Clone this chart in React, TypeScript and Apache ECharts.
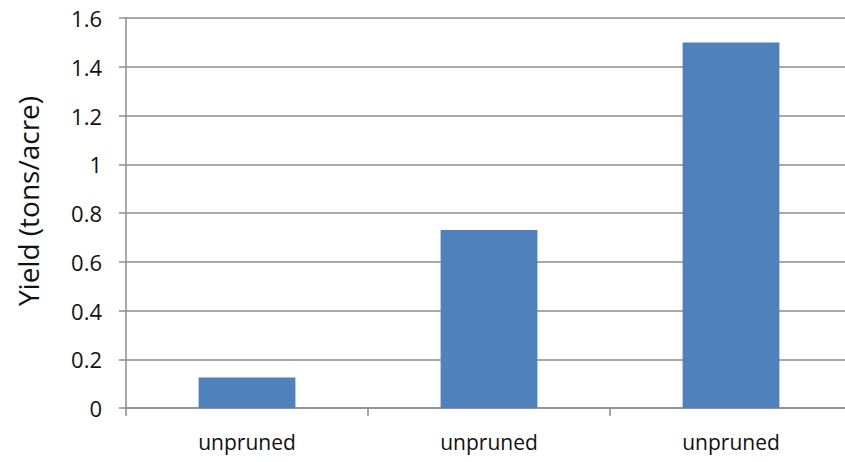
import React, { useEffect, useRef } from 'react';
import * as echarts from 'echarts';

const categories = ['unpruned', 'unpruned', 'unpruned'];
const yieldValues = [0.125, 0.73, 1.5];

function App() {
  const chartRef = useRef<HTMLDivElement | null>(null);

  useEffect(() => {
    if (!chartRef.current) return undefined;
    const myChart = echarts.init(chartRef.current, null, { renderer: 'svg' });

    const font = 'Open Sans, Liberation Sans, sans-serif';
    const option = {
      animation: false,
      grid: {
        left: 126,
        top: 18,
        width: 726,
        bottom: 54,
        containLabel: false,
        outerBoundsMode: 'none',
      },
      xAxis: {
        type: 'category',
        data: categories,
        boundaryGap: true,
        axisLine: { show: true, lineStyle: { color: '#8c8c8c', width: 1.5 } },
        axisTick: { show: true, length: 8, lineStyle: { color: '#8c8c8c', width: 1.5 } },
        axisLabel: { color: '#111', fontSize: 21, fontFamily: font, margin: 23 },
        splitLine: { show: false },
      },
      yAxis: {
        type: 'value',
        min: 0,
        max: 1.6,
        interval: 0.2,
        name: 'Yield (tons/acre)',
        nameLocation: 'middle',
        nameGap: 84,
        // 제목이 축 중앙보다 약간 위에 있음
        nameTextStyle: { color: '#111', fontSize: 28, fontFamily: font, padding: [0, 0, 0, 24] },
        axisLine: { show: true, lineStyle: { color: '#8c8c8c', width: 1.5 } },
        axisTick: { show: true, length: 7, lineStyle: { color: '#8c8c8c', width: 1.5 } },
        axisLabel: {
          color: '#111',
          fontSize: 22,
          fontFamily: font,
          margin: 24,
          formatter: (v: number) => String(Math.round(v * 10) / 10),
        },
        splitLine: { show: true, lineStyle: { color: '#8c8c8c', width: 1.5 } },
      },
      series: [
        {
          type: 'bar',
          data: yieldValues,
          barWidth: '40%',
          itemStyle: { color: '#4f81bd' },
        },
      ],
    };

    myChart.setOption(option);
    return () => {
      myChart.dispose();
    };
  }, []);

  return (
    <div
      ref={chartRef}
      style={{ position: 'fixed', left: 0, top: 0, width: '845px', height: '462px', background: '#fff' }}
    />
  );
}

export default App;
